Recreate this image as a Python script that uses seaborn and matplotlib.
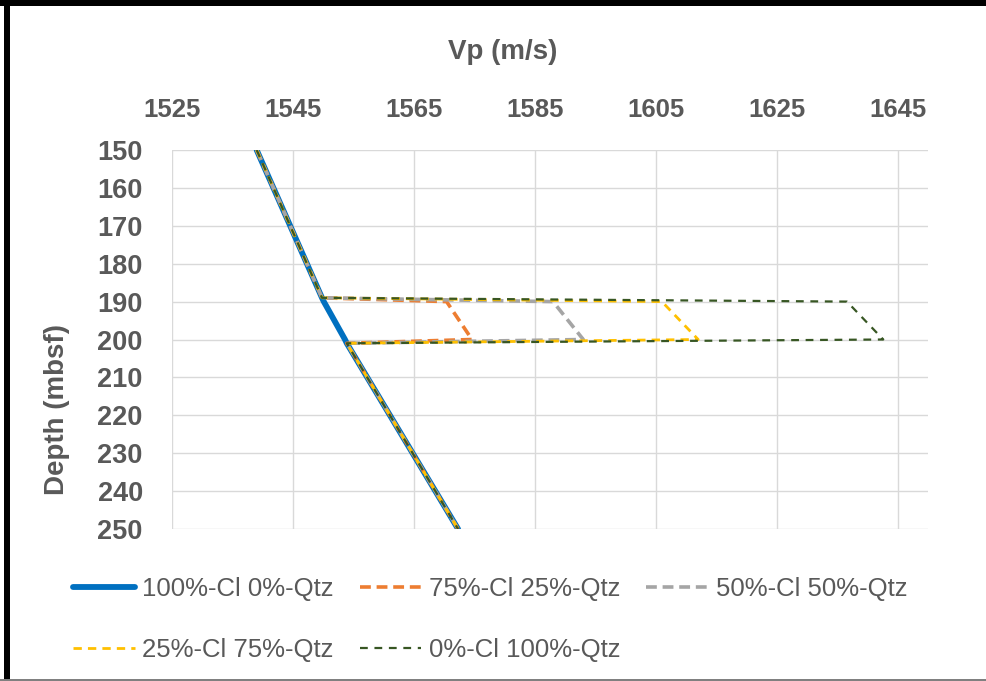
import matplotlib
matplotlib.use("Agg")
import matplotlib.pyplot as plt
import seaborn as sns
from matplotlib.patches import Rectangle

# ---- data ----
depth = [150, 189, 190, 200, 201, 250]
vp_100cl = [1539.0, 1549.8, 1550.1, 1553.6, 1553.9, 1572.3]
vp_75cl = [1539.0, 1549.8, 1570.4, 1574.6, 1553.9, 1572.3]
vp_50cl = [1539.0, 1549.8, 1588.0, 1593.0, 1553.9, 1572.3]
vp_25cl = [1539.0, 1549.8, 1606.0, 1612.0, 1553.9, 1572.3]
vp_0cl = [1539.0, 1549.8, 1636.6, 1642.6, 1553.9, 1572.3]
labels = ["100%-Cl 0%-Qtz", "75%-Cl 25%-Qtz", "50%-Cl 50%-Qtz",
          "25%-Cl 75%-Qtz", "0%-Cl 100%-Qtz"]
x_ticks = [1525, 1545, 1565, 1585, 1605, 1625, 1645]
y_ticks = [150, 160, 170, 180, 190, 200, 210, 220, 230, 240, 250]

sns.set_theme(style="white")
plt.rcParams["font.family"] = ["Liberation Sans", "DejaVu Sans"]

TXT = "#595959"
fig = plt.figure(figsize=(9.86, 6.81), dpi=100)
fig.patch.set_facecolor("white")
ax = fig.add_axes([172 / 986, 1 - 529 / 681, 756 / 986, 379 / 681])

styles = [
    dict(color="#0070C0", lw=4.2, ls="-"),
    dict(color="#ED7D31", lw=2.6, ls=(0, (3, 1.6))),
    dict(color="#A5A5A5", lw=2.6, ls=(0, (3, 1.6))),
    dict(color="#FFC000", lw=2.0, ls=(0, (3, 2.2))),
    dict(color="#375623", lw=1.6, ls=(0, (3.5, 3))),
]
series = [vp_100cl, vp_75cl, vp_50cl, vp_25cl, vp_0cl]
handles = []
for vals, lab, st in zip(series, labels, styles):
    sns.lineplot(x=vals, y=depth, sort=False, estimator=None, ax=ax,
                 color=st["color"], linewidth=st["lw"], linestyle=st["ls"],
                 label=lab, legend=False)
    handles.append(ax.lines[-1])

ax.set_xlim(1525, 1650)
ax.set_ylim(250, 150)
ax.set_xticks(x_ticks)
ax.set_yticks(y_ticks)
ax.xaxis.set_ticks_position("top")
ax.xaxis.set_label_position("top")
ax.tick_params(axis="x", length=0, pad=20, labelsize=18.5, labelcolor=TXT)
ax.tick_params(axis="y", length=0, pad=21, labelsize=19.5, labelcolor=TXT)
for t in ax.get_xticklabels() + ax.get_yticklabels():
    t.set_fontweight("bold")

ax.grid(True, color="#D9D9D9", linewidth=1.0)
ax.set_axisbelow(True)
for s in ax.spines.values():
    s.set_visible(False)

ax.set_xlabel("Vp (m/s)", fontsize=20, fontweight="bold", color=TXT)
ax.xaxis.label.set_va("center")
ax.xaxis.set_label_coords(0.437, 1.2586)
ax.set_ylabel("Depth (mbsf)", fontsize=20, fontweight="bold", color=TXT)
ax.yaxis.label.set_va("center")
ax.yaxis.set_label_coords(-0.152, 0.314)

# legend: row-major order via column-wise fill
order = [0, 3, 1, 4, 2]
leg = fig.legend([handles[i] for i in order], [labels[i] for i in order],
                 loc="upper left", bbox_to_anchor=(73 / 986, 1 - 577 / 681),
                 ncol=3, frameon=False, fontsize=18.5, handlelength=2.4,
                 handletextpad=0.3, columnspacing=1.0, labelspacing=1.43,
                 borderpad=0, borderaxespad=0)
for t in leg.get_texts():
    t.set_color(TXT)

# outer frame (black left/top, gray bottom)
fig.add_artist(Rectangle((4 / 986, 0), 6 / 986, 1, transform=fig.transFigure,
                         facecolor="black", edgecolor="none"))
fig.add_artist(Rectangle((0, 1 - 6 / 681), 1, 6 / 681, transform=fig.transFigure,
                         facecolor="black", edgecolor="none"))
fig.add_artist(Rectangle((0, 0), 1, 2 / 681, transform=fig.transFigure,
                         facecolor="#808080", edgecolor="none"))

fig.savefig("out.png", dpi=100, facecolor="white")
